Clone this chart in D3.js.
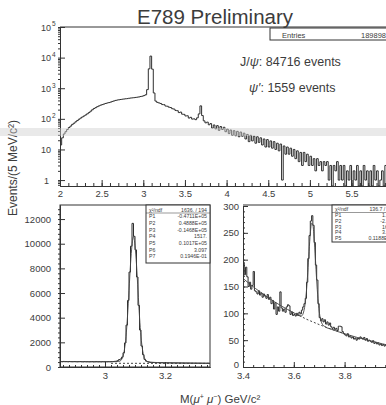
<!DOCTYPE html>
<html>
<head>
<meta charset="utf-8">
<script src="https://cdn.jsdelivr.net/npm/d3@7"></script>
<style>
  body { margin: 0; background: #fff; }
  svg { display: block; }
  text { font-family: "Liberation Sans", Arial, sans-serif; fill: #3c3c3c; }
</style>
</head>
<body>
<svg id="chart" width="386" height="405"></svg>
<script>
// full mass spectrum, 20 MeV bins from 2.00 GeV (counts per 5 MeV)
const fullStart = 2.0, fullBin = 0.02;
const fullCounts = [
  14, 24, 32, 38, 45, 52, 58, 66, 72, 80,
  88, 97, 106, 115, 124, 134, 146, 160, 178, 198,
  218, 232, 250, 265, 280, 292, 305, 318, 330, 340,
  352, 370, 385, 400, 412, 420, 428, 438, 445, 452,
  458, 470, 478, 485, 492, 500, 510, 520, 535, 550,
  575, 610, 900, 4300, 11200, 4200, 700, 380, 345, 330,
  318, 292, 290, 262, 258, 240, 234, 214, 208, 188,
  184, 160, 166, 142, 140, 124, 126, 106, 112, 98,
  100, 94, 108, 145, 265, 128, 86, 74, 78, 64,
  70, 50, 63, 47, 60, 42, 56, 45, 53, 38,
  46, 33, 43, 29, 41, 28, 39, 26, 37, 27,
  34, 22, 31, 18, 29, 19, 27, 16, 26, 17,
  24, 14, 22, 12, 21, 12, 19, 11, 18, 10,
  16, 9, 15, 1, 13, 7, 12, 7, 11, 6,
  10, 5, 9, 4, 8, 3, 8, 4, 7, 3,
  6, 3, 5, 2, 5, 3, 4, 2, 4, 3,
  4, 1, 3, 0, 3, 2, 4, 1, 3, 1,
  3, 0, 2, 1, 3, 0, 2, 1, 3, 0,
  2, 0, 3, 1, 2, 0, 2, 0, 3, 1,
  2, 0, 1, 2, 0, 3, 1, 0, 2, 1
];

// J/psi region, 5 MeV bins from 2.85 GeV
const jpsiStart = 2.85, jpsiBin = 0.005;
const jpsiCounts = [
  445, 430, 452, 438, 441, 426, 447, 433, 429, 440,
  436, 424, 431, 442, 428, 420, 437, 425, 430, 419,
  428, 434, 416, 425, 431, 420, 426, 418, 432, 424,
  430, 425, 433, 428, 440, 445, 455, 470, 510, 600,
  650, 800, 1150, 1950, 3400, 5400, 7700, 9800, 11650, 10600,
  9500, 7300, 5000, 3000, 1700, 1000, 620, 480, 430, 390,
  372, 360, 364, 352, 356, 348, 351, 344, 347, 340,
  343, 336, 339, 333, 336, 330, 333, 327, 330, 325,
  328, 322, 325, 319, 322, 317, 320, 314, 317, 312,
  315, 310, 313, 307, 310, 305, 308, 303, 306, 300
];
const jpsiFit = [
  [2.85, 435], [2.95, 428], [3.00, 428], [3.03, 432], [3.04, 440], [3.045, 450],
  [3.05, 480], [3.055, 600], [3.06, 860], [3.065, 1450], [3.07, 2470], [3.075, 4110],
  [3.08, 6200], [3.085, 8330], [3.09, 9880], [3.095, 10600], [3.10, 9850], [3.105, 8300],
  [3.11, 6170], [3.115, 4080], [3.12, 2440], [3.125, 1420], [3.13, 830], [3.135, 570],
  [3.14, 460], [3.145, 420], [3.15, 395], [3.20, 340], [3.25, 322], [3.30, 310], [3.35, 300]
];
const jpsiBg = [[3.02, 300], [3.35, 292]];
const jpsiStats = [
  ["χ²/ndf", "1636.  /  194"], ["P1", "-0.4711E+05"], ["P2", "0.4888E+05"],
  ["P3", "-0.1468E+05"], ["P4", "1517."], ["P5", "0.1017E+05"],
  ["P6", "3.097"], ["P7", "0.1946E-01"]
];

// psi' region, 5 MeV bins from 3.40 GeV
const psiStart = 3.4, psiBin = 0.005;
const psiCounts = [
  195, 172, 186, 168, 150, 158, 145, 152, 178, 142,
  140, 136, 142, 134, 138, 130, 136, 132, 128, 135,
  126, 130, 118, 124, 108, 120, 98, 112, 104, 140,
  110, 104, 108, 102, 112, 116, 114, 98, 102, 96,
  98, 95, 100, 96, 102, 99, 106, 112, 118, 128,
  158, 202, 245, 272, 282, 264, 232, 190, 162, 118,
  92, 86, 90, 84, 88, 80, 84, 78, 82, 75,
  72, 74, 70, 72, 68, 76, 76, 75, 66, 62,
  60, 58, 62, 56, 58, 54, 56, 52, 54, 50,
  54, 52, 56, 54, 52, 55, 50, 53, 48, 50,
  48, 46, 49, 44, 46, 43, 45, 41, 43, 40,
  42, 39, 41, 38, 40, 37, 39, 36, 38, 35
];
const psiFit = [
  [3.40, 165], [3.45, 146], [3.50, 129], [3.55, 114], [3.60, 101], [3.62, 96],
  [3.63, 95], [3.64, 105], [3.65, 143], [3.655, 176], [3.66, 215], [3.665, 249],
  [3.67, 268], [3.675, 265], [3.68, 240], [3.685, 202], [3.69, 162], [3.695, 128],
  [3.70, 104], [3.71, 82], [3.72, 76], [3.75, 70], [3.80, 62], [3.85, 55],
  [3.90, 49], [3.95, 43], [4.00, 38]
];
const psiBg = [[3.58, 106], [3.60, 101], [3.65, 89], [3.70, 79], [3.75, 70], [3.80, 62]];
const psiStats = [
  ["χ²/ndf", "136.7  /  115"], ["P1", "1.524"], ["P2", "-2.309"],
  ["P3", "161.8"], ["P4", "3.686"], ["P5", "0.1188E-01"]
];

const topYTicks = [1, 10, 100, 1000, 1e4, 1e5];
const topYLabels = [["1", ""], ["10", ""], ["10", "2"], ["10", "3"], ["10", "4"], ["10", "5"]];
const topXTicks = [2, 2.5, 3, 3.5, 4, 4.5, 5, 5.5];
const jpsiYTicks = [0, 2000, 4000, 6000, 8000, 10000, 12000];
const jpsiXTicks = [3, 3.2];
const psiYTicks = [0, 50, 100, 150, 200, 250, 300];
const psiXTicks = [3.4, 3.6, 3.8];

const ink = "#333";
const svg = d3.select("#chart");

function styleAxis(g) {
  g.selectAll("path, line").attr("stroke", ink).attr("stroke-width", 1);
  g.selectAll("text").attr("fill", "#444").attr("font-size", 9.5)
    .attr("font-family", "Liberation Sans, Arial, sans-serif");
}

function histPath(g, x, y, start, width, counts, floor, clipId) {
  const pts = counts.map((c, i) => [start + i * width, c]);
  pts.unshift([start, floor]);
  pts.push([start + counts.length * width, counts[counts.length - 1]]);
  const line = d3.line()
    .x(d => x(d[0]))
    .y(d => y(Math.max(d[1], floor)))
    .curve(d3.curveStepAfter);
  g.append("path").attr("clip-path", `url(#${clipId})`)
    .attr("d", line(pts)).attr("fill", "none")
    .attr("stroke", "#2e2e2e").attr("stroke-width", 1);
}

function addClip(id, x0, y0, x1, y1) {
  svg.append("clipPath").attr("id", id).append("rect")
    .attr("x", x0).attr("y", y0).attr("width", x1 - x0).attr("height", y1 - y0);
}

// ---------- top panel ----------
const xTop = d3.scaleLinear().domain([2, 6]).range([60, 393.2]);
const yTop = d3.scaleLog().domain([0.64, 1e5]).range([186, 27]);
addClip("clipTop", 60, 27, 386, 186);

histPath(svg, xTop, yTop, fullStart, fullBin, fullCounts, 0.64, "clipTop");

svg.append("line").attr("x1", 60).attr("x2", 386).attr("y1", 27).attr("y2", 27).attr("stroke", ink);

svg.append("g").attr("transform", "translate(0,186)")
  .call(d3.axisBottom(xTop).tickValues(d3.range(20, 60).map(d => d / 10)).tickSize(-3).tickSizeOuter(0).tickFormat(""))
  .call(styleAxis);
svg.append("g").attr("transform", "translate(0,186)")
  .call(d3.axisBottom(xTop).tickValues(topXTicks).tickSize(-6).tickSizeOuter(0).tickPadding(4)
    .tickFormat(d3.format("")))
  .call(styleAxis);

svg.append("g").attr("transform", "translate(60,0)")
  .call(d3.axisLeft(yTop).tickValues(yTop.ticks()).tickSize(2).tickSizeOuter(0).tickFormat(""))
  .call(styleAxis);
svg.append("g").attr("transform", "translate(60,0)")
  .call(d3.axisLeft(yTop).tickValues(topYTicks).tickSize(-5).tickSizeOuter(0).tickFormat(""))
  .call(styleAxis);

topYTicks.forEach((v, i) => {
  const [base, sup] = topYLabels[i];
  svg.append("text").attr("x", base === "1" ? 49 : 51)
    .attr("y", yTop(v)).attr("dy", "0.4em").attr("text-anchor", "end")
    .attr("font-size", 9).attr("fill", "#444").text(base);
  if (sup) {
    svg.append("text").attr("x", 52).attr("y", yTop(v)).attr("dy", "-0.1em")
      .attr("font-size", 6.5).attr("fill", "#444").text(sup);
  }
});

// title and annotations
svg.append("text").attr("x", 215).attr("y", 24).attr("text-anchor", "middle")
  .attr("font-size", 20.5).attr("fill", "#4a4a4a").text("E789 Preliminary");

svg.append("rect").attr("x", 270).attr("y", 28).attr("width", 130).attr("height", 12)
  .attr("fill", "#fff").attr("stroke", ink).attr("stroke-width", 1);
svg.append("text").attr("x", 282).attr("y", 37.5).attr("font-size", 7.5).text("Entries");
svg.append("text").attr("x", 386).attr("y", 37.5).attr("text-anchor", "end").attr("font-size", 7.5).text("189898");

const jl = svg.append("text").attr("x", 240).attr("y", 66).attr("font-size", 12.5);
jl.append("tspan").text("J/");
jl.append("tspan").attr("font-style", "italic").text("ψ");
jl.append("tspan").text(": 84716 events");
const pl = svg.append("text").attr("x", 249).attr("y", 92).attr("font-size", 12.5);
pl.append("tspan").attr("font-style", "italic").text("ψ′");
pl.append("tspan").text(": 1559 events");

// ---------- bottom left: J/psi ----------
const xJ = d3.scaleLinear().domain([2.85, 3.35]).range([60, 210]);
const yJ = d3.scaleLinear().domain([0, 13140]).range([367, 205]);
addClip("clipJ", 60, 205, 210, 367);

histPath(svg, xJ, yJ, jpsiStart, jpsiBin, jpsiCounts, 0, "clipJ");
svg.append("path").attr("clip-path", "url(#clipJ)")
  .attr("d", d3.line().x(d => xJ(d[0])).y(d => yJ(d[1])).curve(d3.curveMonotoneX)(jpsiFit))
  .attr("fill", "none").attr("stroke", "#444").attr("stroke-width", 0.9);
svg.append("path").attr("clip-path", "url(#clipJ)")
  .attr("d", d3.line().x(d => xJ(d[0])).y(d => yJ(d[1]))(jpsiBg))
  .attr("fill", "none").attr("stroke", "#444").attr("stroke-width", 1).attr("stroke-dasharray", "2,2");

svg.append("rect").attr("x", 60).attr("y", 205).attr("width", 150).attr("height", 162)
  .attr("fill", "none").attr("stroke", ink);

svg.append("g").attr("transform", "translate(0,367)")
  .call(d3.axisBottom(xJ).tickValues(d3.range(286, 336, 2).map(d => d / 100)).tickSize(-2).tickSizeOuter(0).tickFormat(""))
  .call(styleAxis);
svg.append("g").attr("transform", "translate(0,367)")
  .call(d3.axisBottom(xJ).tickValues(jpsiXTicks).tickSize(-5).tickSizeOuter(0).tickPadding(5).tickFormat(d3.format("")))
  .call(styleAxis);
svg.append("g").attr("transform", "translate(60,0)")
  .call(d3.axisLeft(yJ).tickValues(d3.range(0, 13001, 400)).tickSize(2).tickSizeOuter(0).tickFormat(""))
  .call(styleAxis);
svg.append("g").attr("transform", "translate(60,0)")
  .call(d3.axisLeft(yJ).tickValues(jpsiYTicks).tickSize(-5).tickSizeOuter(0).tickPadding(9).tickFormat(d3.format("")))
  .call(styleAxis);

function statsBox(x0, y0, w, h, rows, firstBase, step, valX) {
  svg.append("rect").attr("x", x0).attr("y", y0).attr("width", w).attr("height", h)
    .attr("fill", "#fff").attr("stroke", ink).attr("stroke-width", 1);
  rows.forEach((r, i) => {
    const by = firstBase + i * step;
    svg.append("text").attr("x", x0 + 3).attr("y", by).attr("font-size", 5.2).text(r[0]);
    svg.append("text").attr("x", valX).attr("y", by).attr("text-anchor", "end").attr("font-size", 5.2).text(r[1]);
  });
  svg.append("line").attr("x1", x0).attr("x2", x0 + w).attr("y1", firstBase + 1.5).attr("y2", firstBase + 1.5)
    .attr("stroke", ink).attr("stroke-width", 0.5);
}
statsBox(146, 205, 64, 58, jpsiStats, 211.5, 6.67, 207);

// ---------- bottom right: psi' ----------
const xP = d3.scaleLinear().domain([3.4, 4.0]).range([243, 395.4]);
const yP = d3.scaleLinear().domain([0, 300]).range([367, 206]);
addClip("clipP", 243, 205, 386, 367);

histPath(svg, xP, yP, psiStart, psiBin, psiCounts, 0, "clipP");
svg.append("path").attr("clip-path", "url(#clipP)")
  .attr("d", d3.line().x(d => xP(d[0])).y(d => yP(d[1])).curve(d3.curveMonotoneX)(psiFit))
  .attr("fill", "none").attr("stroke", "#444").attr("stroke-width", 0.9);
svg.append("path").attr("clip-path", "url(#clipP)")
  .attr("d", d3.line().x(d => xP(d[0])).y(d => yP(d[1]))(psiBg))
  .attr("fill", "none").attr("stroke", "#444").attr("stroke-width", 1).attr("stroke-dasharray", "2,2");

svg.append("line").attr("x1", 243).attr("x2", 386).attr("y1", 205).attr("y2", 205).attr("stroke", ink);
svg.append("g").attr("transform", "translate(0,367)")
  .call(d3.axisBottom(xP).tickValues(d3.range(340, 400, 4).map(d => d / 100)).tickSize(-2).tickSizeOuter(0).tickFormat(""))
  .call(styleAxis);
svg.append("g").attr("transform", "translate(0,367)")
  .call(d3.axisBottom(xP).tickValues(psiXTicks).tickSize(-5).tickSizeOuter(0).tickPadding(5).tickFormat(d3.format("")))
  .call(styleAxis);
svg.append("g").attr("transform", "translate(243,0)")
  .call(d3.axisLeft(yP).tickValues(d3.range(0, 301, 10)).tickSize(-2).tickSizeOuter(0).tickFormat(""))
  .call(styleAxis);
svg.append("g").attr("transform", "translate(243,0)")
  .call(d3.axisLeft(yP).tickValues(psiYTicks).tickSize(-5).tickSizeOuter(0).tickPadding(4).tickFormat(d3.format("")))
  .call(styleAxis)
  .call(g => g.selectAll(".tick").filter(d => d === 0).select("text").attr("dy", "0.1em"));

statsBox(332, 205, 68, 37, psiStats, 211, 5.85, 395);

// axis titles
svg.append("text").attr("transform", "translate(17,168) rotate(-90)").attr("text-anchor", "middle")
  .attr("font-size", 12).text("Events/(5 MeV/c²)");
const xt = svg.append("text").attr("x", 180).attr("y", 403).attr("font-size", 11.5);
xt.append("tspan").text("M(");
xt.append("tspan").attr("font-style", "italic").text("μ");
xt.append("tspan").attr("font-size", 7).attr("dy", -4).text("+");
xt.append("tspan").attr("font-style", "italic").attr("dy", 4).text(" μ");
xt.append("tspan").attr("font-size", 7).attr("dy", -4).text("−");
xt.append("tspan").attr("dy", 4).text(")   GeV/c²");

// scan band across the page
svg.append("rect").attr("x", 0).attr("y", 128).attr("width", 386).attr("height", 8)
  .attr("fill", "#cfcfcf").attr("opacity", 0.45);
</script>
</body>
</html>
